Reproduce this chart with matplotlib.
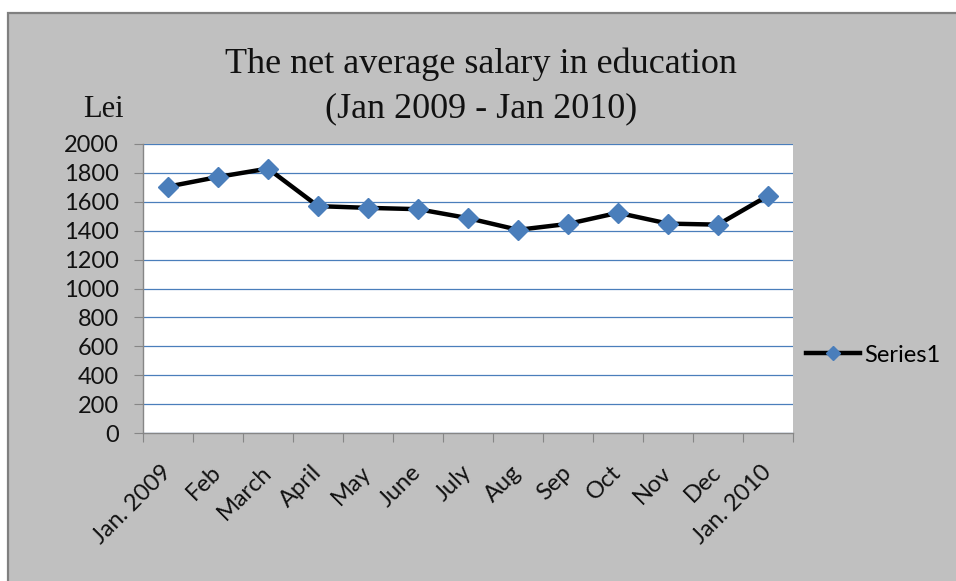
import numpy as np
import matplotlib
matplotlib.use("Agg")
import matplotlib.pyplot as plt
from matplotlib.patches import Rectangle
from matplotlib.lines import Line2D

# Monthly net average salary in education (Lei)
months = ["Jan. 2009", "Feb", "March", "April", "May", "June", "July",
          "Aug", "Sep", "Oct", "Nov", "Dec", "Jan. 2010"]
salary = [1705, 1772, 1830, 1570, 1558, 1549, 1487,
          1406, 1447, 1524, 1449, 1442, 1642]
y_ticks = list(range(0, 2001, 200))
series_name = "Series1"

W, H, DPI = 956, 581, 100
fig = plt.figure(figsize=(W / DPI, H / DPI), dpi=DPI, facecolor="white")

# grey chart area with a darker frame
fig.patches.append(Rectangle((8 / W, -0.01), 1.0, 1 - 13 / H + 0.01,
                             transform=fig.transFigure, facecolor="#c0c0c0",
                             edgecolor="#808080", linewidth=1.6, zorder=-5))

ax = fig.add_axes([143 / W, 1 - 433 / H, (793 - 143) / W, (433 - 144) / H])
ax.set_zorder(2)
ax.set_facecolor("white")

blue = "#4a7ebb"
axis_grey = "#868686"
text_col = "#111111"
tick_font = "Lato"
serif = "Liberation Serif"
fs = 17

x = np.arange(len(months))
ax.plot(x, salary, color="black", linewidth=3.2, marker="D", markersize=10.5,
        markerfacecolor=blue, markeredgecolor=blue, zorder=3)

ax.set_xlim(-0.5, len(months) - 0.5)
ax.set_ylim(0, 2000)

# y axis
ax.set_yticks(y_ticks)
ax.set_yticklabels([str(v) for v in y_ticks], fontfamily=tick_font, fontsize=fs,
                   color=text_col)
ax.tick_params(axis="y", length=6.5, width=0.8, color=axis_grey, pad=11)
ax.yaxis.grid(True, color=blue, linewidth=0.9)
ax.set_axisbelow(True)

# x axis: tick marks between categories, labels at category centres
ax.set_xticks(np.arange(len(months) + 1) - 0.5)
ax.set_xticklabels([])
ax.tick_params(axis="x", which="major", length=6.5, width=0.8, color=axis_grey)
ax.set_xticks(x, minor=True)
ax.set_xticklabels(months, minor=True, rotation=45, ha="right", va="center",
                   rotation_mode="anchor", fontfamily=tick_font, fontsize=fs,
                   color=text_col)
ax.tick_params(axis="x", which="minor", length=0, pad=26)

for side in ("top", "right"):
    ax.spines[side].set_visible(False)
for side in ("left", "bottom"):
    ax.spines[side].set_color(axis_grey)
    ax.spines[side].set_linewidth(1.0)

# titles
fig.text(481 / W, 1 - 73 / H, "The net average salary in education",
         fontfamily=serif, fontsize=26, ha="center", va="baseline", color=text_col)
fig.text(481 / W, 1 - 117 / H, "(Jan 2009 - Jan 2010)",
         fontfamily=serif, fontsize=26, ha="center", va="baseline", color=text_col)
fig.text(83 / W, 1 - 117 / H, "Lei", fontfamily=serif, fontsize=22,
         ha="left", va="baseline", color=text_col)

# legend
handle = Line2D([], [], color="black", linewidth=3.2, marker="D", markersize=7.5,
                markerfacecolor=blue, markeredgecolor=blue)
fig.legend([handle], [series_name], loc="center left",
           bbox_to_anchor=(806 / W, 1 - 355 / H), frameon=False,
           borderpad=0, borderaxespad=0, handlelength=2.3, handletextpad=0.15,
           prop={"family": tick_font, "size": fs})

fig.savefig("out.png", dpi=DPI, facecolor=fig.get_facecolor())
